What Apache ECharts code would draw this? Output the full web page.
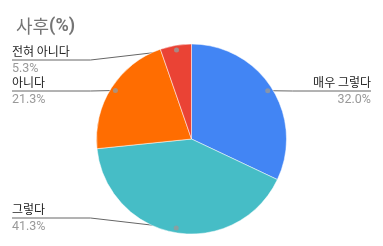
<!DOCTYPE html>
<html><head><meta charset="utf-8">
<script src="https://cdn.jsdelivr.net/npm/echarts@6/dist/echarts.min.js"></script>
<style>html,body{margin:0;padding:0;background:#fff}#c{width:383px;height:246px}</style>
</head><body><div id="c"></div>
<script>
const categories = ['매우 그렇다', '그렇다', '아니다', '전혀 아니다'];
const values = [32.0, 41.3, 21.3, 5.3];
const colors = ['#4285F4', '#46BDC6', '#FF6D01', '#EA4335'];
const titleText = '사후';

const W = 383, H = 246, CX = 191.5, CY = 139, R = 95;
const lineYs = [91, 218, 91, 60];
const total = values.reduce((a, b) => a + b, 0);
let acc = 0;
const dotData = values.map(v => { const m = acc + v / 2; acc += v; return [0.95, m / total * 100]; });

const chart = echarts.init(document.getElementById('c'), null, {renderer: 'canvas'});
chart.setOption({
  animation: false,
  title: {
    text: '{a|' + titleText + '}{b|(%)}', left: 11, top: 12,
    textStyle: {fontWeight: 'normal', rich: {
      a: {fontSize: 18, color: '#757575', fontWeight: 'normal', fontFamily: 'Noto Sans CJK KR'},
      b: {fontSize: 18, color: '#757575', fontWeight: 'bold', fontFamily: 'Roboto'}
    }}
  },
  polar: {center: [CX, CY], radius: R},
  angleAxis: {type: 'value', min: 0, max: 100, startAngle: 90, clockwise: true, show: false},
  radiusAxis: {type: 'value', min: 0, max: 1, show: false},
  series: [{
    type: 'pie', center: [CX, CY], radius: R, startAngle: 90, clockwise: true,
    avoidLabelOverlap: false,
    itemStyle: {borderColor: '#fff', borderWidth: 0.5},
    data: categories.map((n, i) => ({name: n, value: values[i], itemStyle: {color: colors[i]}})),
    label: {
      position: 'outside',
      formatter: p => '{n|' + p.name + '}\n{p|' + p.value.toFixed(1) + '%}',
      rich: {
        n: {fontSize: 12, color: '#222', fontFamily: 'Noto Sans CJK KR', lineHeight: 17},
        p: {fontSize: 12.5, color: '#999', fontFamily: 'Roboto', lineHeight: 17}
      }
    },
    labelLine: {show: true, length: 5, length2: 5, lineStyle: {color: '#666', width: 1}},
    emphasis: {disabled: true},
    labelLayout: function (p) {
      const i = p.dataIndex;
      const s = p.labelLinePoints[0];
      const dot = [CX + (s[0] - CX) * 0.95, CY + (s[1] - CY) * 0.95];
      const y = lineYs[i];
      const left = dot[0] < CX;
      if (left) {
        return {x: 12, y: y, align: 'left', verticalAlign: 'middle',
          labelLinePoints: [[12, y], [CX - R - 6, y], dot]};
      }
      return {x: 371, y: y, align: 'right', verticalAlign: 'middle',
        labelLinePoints: [[371, y], [CX + R + 6, y], dot]};
    }
  }, {
    type: 'scatter', coordinateSystem: 'polar', symbolSize: 5,
    itemStyle: {color: '#999'}, data: dotData, silent: true
  }]
});
</script></body></html>
